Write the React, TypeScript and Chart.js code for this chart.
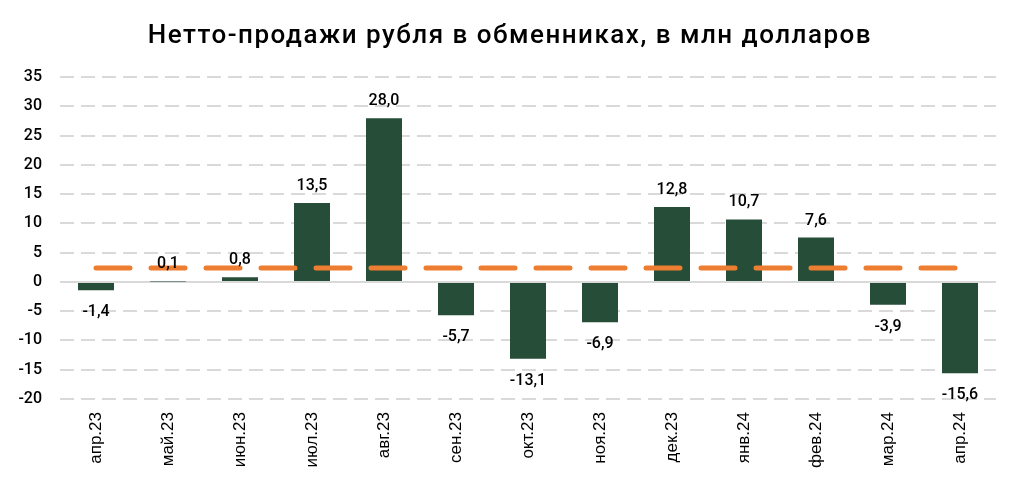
import React, { useEffect, useRef } from "react";
import { Chart, registerables } from "chart.js";

Chart.register(...registerables);

const categories = ["апр.23", "май.23", "июн.23", "июл.23", "авг.23", "сен.23", "окт.23", "ноя.23", "дек.23", "янв.24", "фев.24", "мар.24", "апр.24"];
const netSales = [-1.4, 0.1, 0.8, 13.5, 28.0, -5.7, -13.1, -6.9, 12.8, 10.7, 7.6, -3.9, -15.6];
const averageLine = [2.4, 2.4, 2.4, 2.4, 2.4, 2.4, 2.4, 2.4, 2.4, 2.4, 2.4, 2.4, 2.4];
const titleText = "Нетто-продажи рубля в обменниках, в млн долларов";

const BAR_COLOR = "#264d37";
const LINE_COLOR = "#ed7d31";
const GRID_COLOR = "#d9d9d9";

const fmt = (v: number) => v.toFixed(1).replace(".", ",");

const labelPlugin = {
  id: "barLabels",
  afterDatasetsDraw(chart: any) {
    const meta = chart.getDatasetMeta(0);
    const ctx = chart.ctx;
    ctx.save();
    ctx.font = "500 16px Roboto";
    ctx.fillStyle = "#000";
    ctx.textAlign = "center";
    meta.data.forEach((el: any, i: number) => {
      const v = netSales[i];
      if (v >= 0) {
        ctx.textBaseline = "alphabetic";
        ctx.fillText(fmt(v), el.x, el.y - 13);
      } else {
        ctx.textBaseline = "top";
        ctx.fillText(fmt(v), el.x, el.y + 14);
      }
    });
    ctx.restore();
  },
};

const titlePlugin = {
  id: "customTitle",
  afterDraw(chart: any) {
    const ctx = chart.ctx;
    ctx.save();
    ctx.font = "500 26px Roboto";
    (ctx as any).letterSpacing = "1.5px";
    ctx.fillStyle = "#000";
    ctx.textAlign = "center";
    ctx.textBaseline = "alphabetic";
    ctx.fillText(titleText, 510, 43);
    ctx.restore();
  },
};

export default function App() {
  const ref = useRef<HTMLCanvasElement>(null);
  useEffect(() => {
    document.body.style.margin = "0";
    const chart = new Chart(ref.current!, {
      type: "bar",
      data: {
        labels: categories,
        datasets: [
          {
            type: "bar",
            data: netSales,
            backgroundColor: BAR_COLOR,
            categoryPercentage: 1,
            barPercentage: 0.5,
            order: 1,
          },
          {
            type: "line",
            data: averageLine,
            borderColor: LINE_COLOR,
            borderWidth: 5,
            borderDash: [34, 21],
            borderCapStyle: "round",
            pointRadius: 0,
            fill: false,
            order: 0,
          } as any,
        ],
      },
      options: {
        animation: false,
        responsive: false,
        layout: { padding: { left: 0, right: 23, top: 0, bottom: 0 } },
        plugins: {
          legend: { display: false },
          tooltip: { enabled: false },
          title: {
            display: true,
            text: titleText,
            color: "rgba(0,0,0,0)",
            font: { family: "Roboto", size: 26, weight: "normal" },
            padding: { top: 22, bottom: 24 },
          },
        },
        scales: {
          x: {
            grid: { display: false, drawTicks: false },
            border: { display: false },
            ticks: {
              color: "#000",
              font: { family: "Liberation Sans", size: 17 },
              minRotation: 90,
              maxRotation: 90,
              padding: 13,
              autoSkip: false,
            },
            afterFit: (s: any) => {
              s.height = 85;
            },
          },
          y: {
            min: -20,
            max: 35,
            ticks: {
              stepSize: 5,
              color: "#000",
              font: { family: "Roboto", size: 16, weight: 500 },
              padding: 18,
            },
            border: { display: false, dash: [14, 7] },
            grid: {
              drawTicks: false,
              lineWidth: 2,
              color: GRID_COLOR,
            },
            afterFit: (s: any) => {
              s.width = 60;
            },
          },
        },
      },
      plugins: [
        labelPlugin,
        titlePlugin,
        {
          id: "zeroSolid",
          beforeDatasetsDraw(chart: any) {
            const y = chart.scales.y.getPixelForValue(0);
            const { left, right } = chart.chartArea;
            const ctx = chart.ctx;
            ctx.save();
            ctx.strokeStyle = GRID_COLOR;
            ctx.lineWidth = 2;
            ctx.beginPath();
            ctx.moveTo(left, y);
            ctx.lineTo(right, y);
            ctx.stroke();
            ctx.restore();
          },
        },
      ],
    });
    return () => chart.destroy();
  }, []);
  return (
    <div style={{ position: "absolute", left: 0, top: 0, width: 1019, height: 484, background: "#fff" }}>
      <canvas ref={ref} width={1019} height={484} />
    </div>
  );
}
